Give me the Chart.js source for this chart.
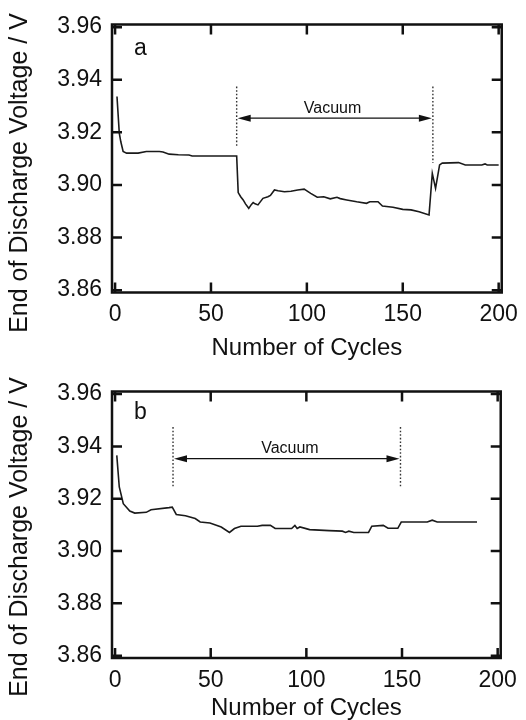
<!DOCTYPE html>
<html><head><meta charset="utf-8">
<script src="https://cdn.jsdelivr.net/npm/chart.js@4.4.1/dist/chart.umd.min.js"></script>
<style>
html,body{margin:0;padding:0;background:#fff;width:526px;height:720px;overflow:hidden}
canvas{position:absolute;left:0}
#ca{top:0}
#cb{top:366px}
</style></head><body>
<canvas id="ca" width="526" height="366"></canvas>
<canvas id="cb" width="526" height="354"></canvas>
<script>
const xTicks = [0, 50, 100, 150, 200];
const yTicks = [3.86, 3.88, 3.90, 3.92, 3.94, 3.96];
const xTitle = 'Number of Cycles';
const yTitle = 'End of Discharge Voltage / V';

// Panel a
const cyclesA = [1, 2.2, 3, 4.2, 6, 8.5, 12, 16.3, 20, 23.1, 25, 28.2, 33, 38.5, 40.2, 50, 62.5, 63.4,
  64.2, 65.5, 66.8, 68, 69.7, 71, 72, 73, 74.5, 77.1, 79.7, 81, 83.1, 85, 88.3, 91.7, 95.2, 98.6,
  102, 105.4, 108.8, 112.2, 115.7, 117.4, 120.8, 126, 131.1, 132.8, 137.1, 139.4, 144.9, 150,
  154.3, 158.5, 163.7, 165.4, 167.1, 169.2, 170.6, 179.1, 182.6, 191.2, 192.9, 194, 200];
const voltageA = [3.9336, 3.9197, 3.9164, 3.9127, 3.9121, 3.9121, 3.9121, 3.9127, 3.9127, 3.9127, 3.9125, 3.9117, 3.9115, 3.9114, 3.9110, 3.9110, 3.9110, 3.9110,
  3.8971, 3.8955, 3.8943, 3.8928, 3.8911, 3.8925, 3.8933, 3.8928, 3.8924, 3.8949, 3.8955, 3.8960, 3.8981, 3.8978, 3.8974, 3.8976, 3.8981, 3.8984,
  3.8968, 3.8953, 3.8955, 3.8947, 3.8953, 3.8948, 3.8943, 3.8936, 3.8930, 3.8936, 3.8936, 3.8920, 3.8915, 3.8907,
  3.8905, 3.8898, 3.8886, 3.9044, 3.8987, 3.9076, 3.9083, 3.9085, 3.9076, 3.9076, 3.9080, 3.9076, 3.9076];
const vacuumA = [63.4, 165.7];
const dashTopA = 3.9374;
const dashBottomA = [3.9146, 3.9083];
const arrowYA = 3.9254;
const vacuumLabelA = [113.4, 3.9289];

// Panel b
const cyclesB = [0.9, 2.2, 4.3, 7.7, 10.3, 16.3, 18.8, 28.2, 29.9, 32, 36.8, 41.9, 44.5, 49.6, 55.5, 59.8, 62.4, 65.8,
  74.4, 76.9, 81.2, 83.7, 92.3, 94, 95.2, 96.6, 101.7, 111.9, 118.8, 120.5, 122.2, 124.8, 132.5, 134.2,
  140.2, 142.7, 147.8, 149.6, 163.2, 165.8, 168.4, 189.2];
const voltageB = [3.9366, 3.9245, 3.9181, 3.9153, 3.9145, 3.9148, 3.9158, 3.9166, 3.9168, 3.9140, 3.9135, 3.9124, 3.9111, 3.9107, 3.9092, 3.9071, 3.9086, 3.9095,
  3.9095, 3.9098, 3.9098, 3.9086, 3.9086, 3.9098, 3.9086, 3.9092, 3.9082, 3.9078, 3.9076, 3.9071, 3.9076, 3.9071, 3.9071, 3.9095,
  3.9098, 3.9087, 3.9087, 3.9111, 3.9111, 3.9118, 3.9111, 3.9111];
const vacuumB = [30.3, 149.2];
const dashTopB = 3.9474;
const dashBottomB = [3.9245, 3.9245];
const arrowYB = 3.9353;
const vacuumLabelB = [91.4, 3.9392];

const FONT = '"Liberation Sans", Arial, Helvetica, sans-serif';
const INK = '#111';

function arrowhead(ctx, px, py, dir) {
  ctx.beginPath();
  ctx.moveTo(px, py);
  ctx.lineTo(px + dir * 13, py - 3.5);
  ctx.lineTo(px + dir * 13, py + 3.5);
  ctx.closePath();
  ctx.fill();
}

const decor = {
  id: 'decor',
  afterDraw(chart, args, o) {
    const {ctx, chartArea: a, scales: {x, y}} = chart;
    ctx.save();
    // dotted markers
    ctx.strokeStyle = '#333';
    ctx.lineWidth = 1.4;
    ctx.setLineDash([1.6, 2]);
    o.vac.forEach((c, i) => {
      const px = x.getPixelForValue(c);
      ctx.beginPath();
      ctx.moveTo(px, y.getPixelForValue(o.dashTop));
      ctx.lineTo(px, y.getPixelForValue(o.dashBottom[i]));
      ctx.stroke();
    });
    ctx.setLineDash([]);
    // double arrow
    const x1 = x.getPixelForValue(o.vac[0]);
    const x2 = x.getPixelForValue(o.vac[1]);
    const ay = y.getPixelForValue(o.arrowY);
    ctx.strokeStyle = INK;
    ctx.fillStyle = INK;
    ctx.lineWidth = 1.3;
    ctx.beginPath();
    ctx.moveTo(x1 + 8, ay);
    ctx.lineTo(x2 - 8, ay);
    ctx.stroke();
    arrowhead(ctx, x1 + 1, ay, 1);
    arrowhead(ctx, x2 - 1, ay, -1);
    // label
    ctx.font = '16px ' + FONT;
    ctx.textAlign = 'center';
    ctx.textBaseline = 'middle';
    ctx.fillText('Vacuum', x.getPixelForValue(o.label[0]), y.getPixelForValue(o.label[1]));
    // panel letter
    ctx.font = '23px ' + FONT;
    ctx.textAlign = 'left';
    ctx.textBaseline = 'alphabetic';
    ctx.fillText(o.panel, a.left + 22, a.top + o.panelDy);
    // frame
    ctx.strokeStyle = INK;
    ctx.lineWidth = 2.5;
    ctx.strokeRect(a.left, a.top, a.right - a.left, a.bottom - a.top);
    // inward ticks on all four sides
    ctx.lineWidth = 2.5;
    ctx.beginPath();
    xTicks.forEach(v => {
      const px = x.getPixelForValue(v);
      ctx.moveTo(px, a.bottom); ctx.lineTo(px, a.bottom - 10);
      ctx.moveTo(px, a.top); ctx.lineTo(px, a.top + 10);
    });
    yTicks.forEach(v => {
      const py = y.getPixelForValue(v);
      ctx.moveTo(a.left, py); ctx.lineTo(a.left + 10, py);
      ctx.moveTo(a.right, py); ctx.lineTo(a.right - 10, py);
    });
    ctx.stroke();
    // y title
    ctx.translate(o.titleX, o.titleY);
    ctx.rotate(-Math.PI / 2);
    ctx.font = '25px ' + FONT;
    ctx.textAlign = 'center';
    ctx.textBaseline = 'middle';
    ctx.fillStyle = INK;
    ctx.fillText(yTitle, 0, 0);
    ctx.restore();
  }
};

function makeChart(id, cycles, volts, deco, padTop, tickPad, axisH, titlePadBottom) {
  return new Chart(document.getElementById(id), {
    type: 'line',
    data: {
      datasets: [{
        data: cycles.map((c, i) => ({x: c, y: volts[i]})),
        borderColor: '#1a1a1a',
        borderWidth: 1.6,
        pointRadius: 0,
        tension: 0,
        fill: false
      }]
    },
    options: {
      responsive: false,
      animation: false,
      devicePixelRatio: 1,
      layout: {padding: {left: 0, right: 19, top: padTop, bottom: 0}},
      plugins: {legend: {display: false}, tooltip: {enabled: false}, decor: deco},
      scales: {
        x: {
          type: 'linear', min: -1.6, max: 201.6,
          afterBuildTicks: s => { s.ticks = xTicks.map(v => ({value: v})); },
          afterFit: s => { s.height = axisH; },
          grid: {display: false, drawTicks: false},
          border: {display: false},
          ticks: {padding: tickPad, color: INK, font: {family: FONT, size: 23}, maxRotation: 0, autoSkip: false,
            callback: v => String(v)},
          title: {display: true, text: xTitle, color: INK, font: {family: FONT, size: 24, lineHeight: 1},
            padding: {top: 0, bottom: titlePadBottom}}
        },
        y: {
          type: 'linear', min: 3.8591, max: 3.961,
          afterBuildTicks: s => { s.ticks = yTicks.map(v => ({value: v})); },
          afterFit: s => { s.width = 112; },
          grid: {display: false, drawTicks: false},
          border: {display: false},
          ticks: {padding: 10, color: INK, font: {family: FONT, size: 23}, autoSkip: false,
            callback: v => Number(v).toFixed(2)}
        }
      }
    },
    plugins: [decor]
  });
}

makeChart('ca', cyclesA, voltageA, {
  vac: vacuumA, dashTop: dashTopA, dashBottom: dashBottomA, arrowY: arrowYA, label: vacuumLabelA,
  panel: 'a', panelDy: 30.5, titleX: 20, titleY: 173
}, 24.5, 8, 73.5, 6);

makeChart('cb', cyclesB, voltageB, {
  vac: vacuumB, dashTop: dashTopB, dashBottom: dashBottomB, arrowY: arrowYB, label: vacuumLabelB,
  panel: 'b', panelDy: 27, titleX: 20, titleY: 171
}, 25.5, 9, 62, 0);
</script>
</body></html>
